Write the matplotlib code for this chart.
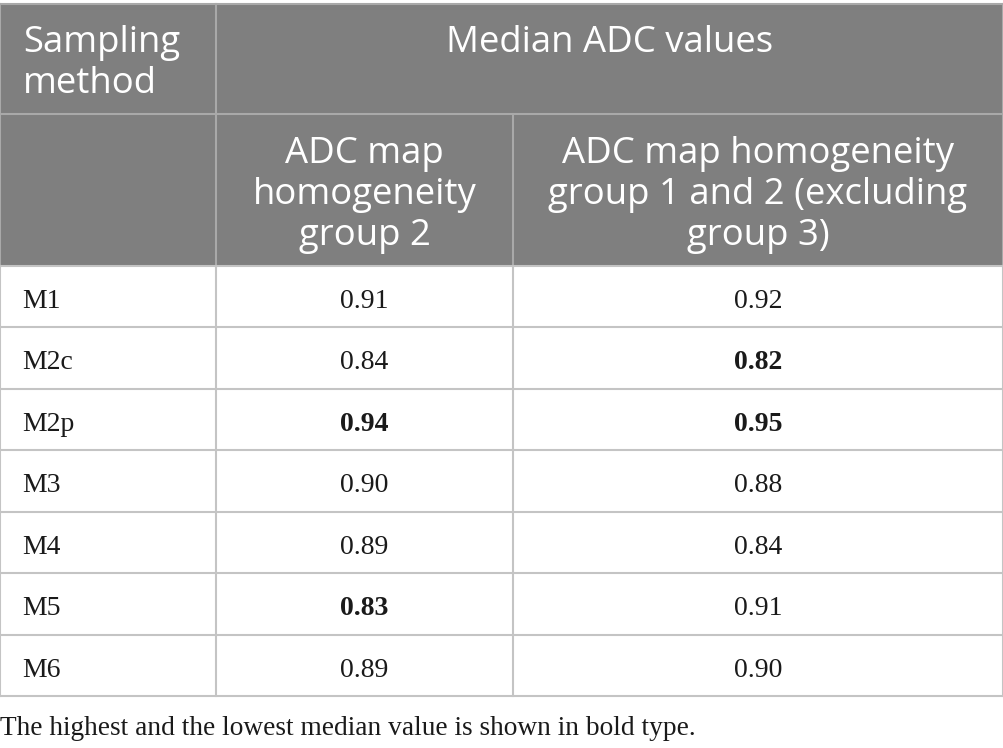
import matplotlib.pyplot as plt
from matplotlib.patches import Rectangle

# table content
methods = ["M1", "M2c", "M2p", "M3", "M4", "M5", "M6"]
group2 = [0.91, 0.84, 0.94, 0.90, 0.89, 0.83, 0.89]
group12 = [0.92, 0.82, 0.95, 0.88, 0.84, 0.91, 0.90]
header_top = ["Sampling", "method"]
header_span = "Median ADC values"
sub_head2 = ["ADC map", "homogeneity", "group 2"]
sub_head3 = ["ADC map homogeneity", "group 1 and 2 (excluding", "group 3)"]
footnote = "The highest and the lowest median value is shown in bold type."

HEAD_BG = "#7f7f7f"
HEAD_LINE = "#a9a9a9"
BODY_LINE = "#c4c4c4"
HEAD_FONT = "Open Sans"
BODY_FONT = "Liberation Serif"

fig = plt.figure(figsize=(10.04, 7.48), dpi=100)
ax = fig.add_axes([0, 0, 1, 1])
ax.set_xlim(0, 1004)
ax.set_ylim(748, 0)
ax.axis("off")

col_x = [0, 216, 513, 1003]
head_y = [4, 114, 266]
row_h = 61.43
n = len(methods)
body_bottom = head_y[2] + n * row_h

# header background + lines
ax.add_patch(Rectangle((col_x[0], head_y[0]), col_x[3] - col_x[0], head_y[2] - head_y[0],
                       facecolor=HEAD_BG, edgecolor="none"))
ax.plot([col_x[0], col_x[3]], [head_y[0], head_y[0]], color=HEAD_LINE, lw=1.5)
ax.plot([col_x[0], col_x[3]], [head_y[1], head_y[1]], color=HEAD_LINE, lw=1.5)
ax.plot([col_x[1], col_x[1]], [head_y[0], head_y[2]], color=HEAD_LINE, lw=1.5)
ax.plot([col_x[2], col_x[2]], [head_y[1], head_y[2]], color=HEAD_LINE, lw=1.5)
ax.plot([col_x[0], col_x[0]], [head_y[0], head_y[2]], color=HEAD_LINE, lw=1.5)
ax.plot([col_x[3], col_x[3]], [head_y[0], head_y[2]], color=HEAD_LINE, lw=1.5)

# body lines
for i in range(n + 1):
    y = head_y[2] + i * row_h
    ax.plot([col_x[0], col_x[3]], [y, y], color=BODY_LINE, lw=1.5)
for x in col_x:
    ax.plot([x, x], [head_y[2], body_bottom], color=BODY_LINE, lw=1.5)

# header text
hs = 26.3
lsp = 41
for k, line in enumerate(header_top):
    ax.text(23, 52 + k * lsp, line, family=HEAD_FONT, fontsize=hs, color="white", va="baseline", ha="left")
ax.text((col_x[1] + col_x[3]) / 2, 52, header_span, family=HEAD_FONT, fontsize=hs,
        color="white", va="baseline", ha="center")
for k, line in enumerate(sub_head2):
    ax.text((col_x[1] + col_x[2]) / 2, 163 + k * lsp, line, family=HEAD_FONT, fontsize=hs,
            color="white", va="baseline", ha="center")
for k, line in enumerate(sub_head3):
    ax.text((col_x[2] + col_x[3]) / 2, 163 + k * lsp, line, family=HEAD_FONT, fontsize=hs,
            color="white", va="baseline", ha="center")

# body text, highest and lowest per column in bold
bs = 20
for col, vals in [(1, group2), (2, group12)]:
    hi, lo = max(vals), min(vals)
    for i, v in enumerate(vals):
        ax.text((col_x[col] + col_x[col + 1]) / 2, 308 + i * row_h, f"{v:.2f}",
                family=BODY_FONT, fontsize=bs, color="#1a1a1a", va="baseline", ha="center",
                fontweight="bold" if v in (hi, lo) else "normal")
for i, m in enumerate(methods):
    ax.text(22, 308 + i * row_h, m, family=BODY_FONT, fontsize=bs, color="#1a1a1a",
            va="baseline", ha="left")

ax.text(0, 735, footnote, family=BODY_FONT, fontsize=19.7, color="#1a1a1a", va="baseline", ha="left")

fig.savefig("out.png", dpi=100)
